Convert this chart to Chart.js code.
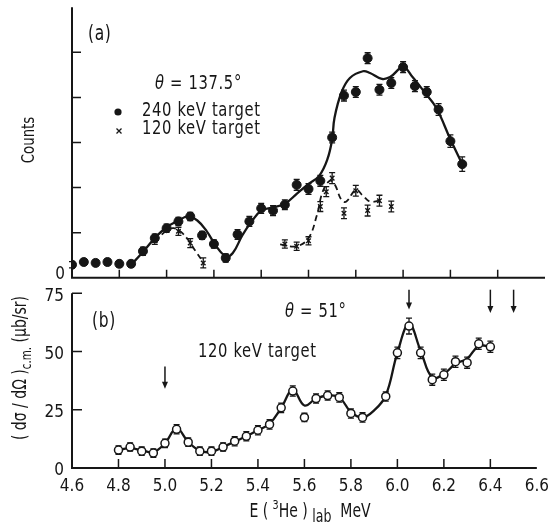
<!DOCTYPE html>
<html>
<head>
<meta charset="utf-8">
<script src="https://cdn.jsdelivr.net/npm/chart.js@4.4.0/dist/chart.umd.min.js"></script>
<style>
html,body{margin:0;padding:0;background:#fff;}
#wrap{position:relative;width:557px;height:522px;overflow:hidden;}
#wrap canvas{position:absolute;left:0;}
</style>
</head>
<body>
<div id="wrap">
<canvas id="panelA" width="557" height="305" style="top:-10px;width:557px;height:305px"></canvas>
<canvas id="panelB" width="557" height="247" style="top:275px;width:557px;height:247px"></canvas>
</div>
<script>
// energy axis, shared by both panels
const xTicks = [4.6,4.8,5.0,5.2,5.4,5.6,5.8,6.0,6.2,6.4,6.6];

// (a) theta = 137.5 deg, counts in tick units
const eA240 = [4.60,4.65,4.70,4.75,4.80,4.85,4.90,4.95,5.00,5.05,5.10,5.15,5.20,5.25,5.30,5.35,5.40,5.45,5.50,5.55,5.60,5.65,5.70,5.75,5.80,5.85,5.90,5.95,6.00,6.05,6.10,6.15,6.20,6.25];
const cA240 = [0.29,0.35,0.33,0.35,0.31,0.31,0.59,0.88,1.10,1.25,1.36,0.94,0.75,0.44,0.96,1.25,1.54,1.49,1.62,2.06,1.97,2.15,3.11,4.04,4.12,4.87,4.17,4.32,4.67,4.25,4.12,3.73,3.03,2.52];
const errA240 = [0.07,0.07,0.07,0.07,0.07,0.07,0.09,0.09,0.09,0.09,0.09,0.09,0.09,0.09,0.11,0.11,0.11,0.11,0.11,0.12,0.12,0.12,0.12,0.12,0.12,0.12,0.12,0.12,0.12,0.12,0.12,0.13,0.14,0.16];
const eA120 = [4.95,5.05,5.10,5.155,5.50,5.55,5.60,5.65,5.675,5.70,5.75,5.80,5.85,5.90,5.95];
const cA120 = [0.82,1.03,0.77,0.33,0.75,0.70,0.82,1.58,1.91,2.21,1.43,1.93,1.49,1.71,1.58];
const errA120 = [0.08,0.09,0.10,0.11,0.09,0.09,0.09,0.11,0.11,0.12,0.12,0.12,0.12,0.12,0.12];

// (a) drawn curves
const fitA240E = [4.85,4.90,4.95,5.00,5.05,5.09,5.13,5.17,5.21,5.25,5.28,5.32,5.36,5.40,5.45,5.50,5.55,5.60,5.645,5.68,5.70,5.71,5.74,5.775,5.83,5.86,5.91,5.945,6.00,6.04,6.09,6.14,6.20,6.25];
const fitA240C = [0.29,0.57,0.88,1.12,1.27,1.36,1.27,1.03,0.70,0.48,0.55,0.94,1.25,1.49,1.56,1.64,1.86,2.08,2.26,2.63,3.07,3.55,4.12,4.43,4.58,4.54,4.41,4.45,4.67,4.45,4.12,3.77,3.07,2.52];
const fitA120E1 = [4.95,5.00,5.03,5.06,5.09,5.12,5.155];
const fitA120C1 = [0.80,1.05,1.10,1.02,0.85,0.61,0.35];
const fitA120E2 = [5.48,5.55,5.60,5.635,5.66,5.69,5.71,5.74,5.76,5.80,5.83,5.86,5.90];
const fitA120C2 = [0.74,0.70,0.88,1.38,1.91,2.15,2.08,1.72,1.69,1.95,1.82,1.69,1.71];

// (b) theta = 51 deg, dsigma/dOmega in microbarn/sr
const eB = [4.80,4.85,4.90,4.95,5.00,5.05,5.10,5.15,5.20,5.25,5.30,5.35,5.40,5.45,5.50,5.55,5.60,5.65,5.70,5.75,5.80,5.85,5.95,6.00,6.05,6.10,6.15,6.20,6.25,6.30,6.35,6.40];
const sB = [7.7,9.0,7.2,6.4,10.6,16.6,11.1,7.2,7.2,9.0,11.5,13.6,16.2,18.7,25.8,33.0,21.7,29.8,31.1,30.3,23.4,21.7,30.7,49.4,60.9,49.4,37.9,40.0,45.6,45.2,53.3,52.0];
const errB = [1.8,1.8,1.8,1.8,1.8,2.0,1.8,1.8,1.8,1.8,2.0,2.0,2.0,2.0,2.0,2.2,1.8,2.0,2.0,2.0,2.0,2.0,2.0,2.5,3.4,2.5,2.4,2.4,2.4,2.4,2.4,2.4];
const fitBE = [4.80,4.85,4.90,4.95,5.00,5.05,5.10,5.15,5.20,5.25,5.30,5.35,5.40,5.45,5.50,5.55,5.60,5.65,5.70,5.75,5.80,5.85,5.90,5.95,6.00,6.05,6.10,6.15,6.20,6.25,6.30,6.35,6.40];
const fitBS = [7.7,8.5,7.6,6.8,10.6,17.0,11.2,7.4,6.9,9.0,11.3,13.6,16.2,19.0,25.8,33.5,26.8,29.8,31.1,30.4,24.0,21.7,24.7,31.1,49.4,61.8,50.3,38.8,40.4,44.7,46.9,52.4,52.0];

// (b) arrows: energy, top and tip of the shaft
const arrowE = [5.00,6.05,6.40,6.50];
const arrowTop = [43.5,76.5,76.5,76.5];
const arrowTip = [34.0,68.0,66.5,66.5];

const FONT = '"DejaVu Sans Condensed","Liberation Sans Narrow",sans-serif';
const INK = '#161616';
const SX = 0.82; // squeeze for the lettering
Chart.defaults.font.family = FONT;
Chart.defaults.color = INK;

const pts = (xs, ys) => xs.map((x, i) => ({x, y: ys[i]}));

// axis lines with inward ticks
const frame = {
  id: 'frame',
  afterDraw(chart, args, o) {
    const {ctx, chartArea: a, scales: {x, y}} = chart;
    ctx.save();
    ctx.strokeStyle = INK;
    ctx.lineWidth = 2;
    ctx.beginPath();
    ctx.moveTo(a.left, a.top); ctx.lineTo(a.left, a.bottom); ctx.lineTo(a.right, a.bottom);
    ctx.stroke();
    ctx.lineWidth = 1.5;
    ctx.beginPath();
    o.xTicks.forEach(v => { const px = x.getPixelForValue(v); ctx.moveTo(px, a.bottom); ctx.lineTo(px, a.bottom - o.len); });
    o.yTicks.forEach(v => { const py = y.getPixelForValue(v); ctx.moveTo(a.left, py); ctx.lineTo(a.left + o.len + 1, py); });
    ctx.stroke();
    ctx.restore();
  }
};

// error bars, read from dataset.errs
const errorBars = {
  id: 'errorBars',
  beforeDatasetsDraw(chart) {
    const {ctx, scales: {y}} = chart;
    ctx.save();
    ctx.strokeStyle = INK;
    ctx.lineWidth = 1.3;
    chart.data.datasets.forEach((ds, i) => {
      if (!ds.errs) return;
      chart.getDatasetMeta(i).data.forEach((el, j) => {
        const v = ds.data[j].y, e = ds.errs[j];
        const t = y.getPixelForValue(v + e), b = y.getPixelForValue(v - e);
        ctx.beginPath();
        ctx.moveTo(el.x, t); ctx.lineTo(el.x, b);
        ctx.moveTo(el.x - 3, t); ctx.lineTo(el.x + 3, t);
        ctx.moveTo(el.x - 3, b); ctx.lineTo(el.x + 3, b);
        ctx.stroke();
      });
    });
    ctx.restore();
  }
};

// squeezed text made of pieces: [text, size, dy, italic]
function rich(ctx, x, y, parts, center) {
  const fontOf = p => (p[3] ? 'italic ' : '') + p[1] + 'px ' + FONT;
  let w = 0;
  parts.forEach(p => { ctx.font = fontOf(p); w += ctx.measureText(p[0]).width; });
  ctx.save();
  ctx.translate(x, y);
  ctx.scale(SX, 1);
  let cx = center ? -w / 2 : 0;
  parts.forEach(p => {
    ctx.font = fontOf(p);
    ctx.fillText(p[0], cx, p[2] || 0);
    cx += ctx.measureText(p[0]).width;
  });
  ctx.restore();
}

// panel (a) canvas sits 10px above the page top
const notesA = {
  id: 'notesA',
  afterDraw(chart) {
    const ctx = chart.ctx;
    ctx.save();
    ctx.translate(0, 10);
    ctx.fillStyle = INK; ctx.strokeStyle = INK;
    ctx.textBaseline = 'middle';
    ctx.letterSpacing = '0.8px';
    rich(ctx, 88, 35, [['(a)', 21]]);
    rich(ctx, 155, 84, [['θ', 20, 0, true], [' = 137.5°', 20]]);
    ctx.beginPath(); ctx.arc(118, 112, 3.6, 0, Math.PI * 2); ctx.fill();
    rich(ctx, 142, 111, [['240 keV target', 20]]);
    ctx.lineWidth = 1.3;
    ctx.beginPath();
    ctx.moveTo(116.5, 128.5); ctx.lineTo(121.5, 133.5);
    ctx.moveTo(121.5, 128.5); ctx.lineTo(116.5, 133.5);
    ctx.stroke();
    rich(ctx, 142, 129, [['120 keV target', 20]]);
    ctx.letterSpacing = '0px';
    ctx.translate(29, 140); ctx.rotate(-Math.PI / 2);
    rich(ctx, 0, 0, [['Counts', 18]], true);
    ctx.restore();
  }
};

const notesB = {
  id: 'notesB',
  afterDraw(chart) {
    const {ctx, scales: {x, y}} = chart;
    ctx.save();
    ctx.fillStyle = INK; ctx.strokeStyle = INK;
    // arrows
    ctx.lineWidth = 1.5;
    arrowE.forEach((e, i) => {
      const px = x.getPixelForValue(e), t = y.getPixelForValue(arrowTop[i]), b = y.getPixelForValue(arrowTip[i]);
      ctx.beginPath(); ctx.moveTo(px, t); ctx.lineTo(px, b - 5); ctx.stroke();
      ctx.beginPath(); ctx.moveTo(px - 3, b - 7); ctx.lineTo(px + 3, b - 7); ctx.lineTo(px, b); ctx.closePath(); ctx.fill();
    });
    ctx.textBaseline = 'middle';
    ctx.letterSpacing = '0.8px';
    rich(ctx, 92, 47, [['(b)', 21]]);
    rich(ctx, 285, 37, [['θ', 20, 0, true], [' = 51°', 20]]);
    rich(ctx, 198, 77, [['120 keV target', 20]]);
    ctx.letterSpacing = '0px';
    ctx.textBaseline = 'alphabetic';
    rich(ctx, 310, 242, [['E ( ', 19], ['3', 13, -8], ['He ) ', 19], ['lab', 17, 5], ['  MeV', 19]], true);
    ctx.translate(26, 93); ctx.rotate(-Math.PI / 2);
    rich(ctx, 0, 0, [['( dσ / dΩ )', 19], ['c.m.', 14, 5], [' (μb/sr)', 19]], true);
    ctx.restore();
  }
};

const hideGrid = {display: false, drawTicks: false};

new Chart(document.getElementById('panelA'), {
  type: 'scatter',
  data: {datasets: [
    {data: pts(eA240, cA240), errs: errA240, pointStyle: 'circle', pointRadius: 4.5, backgroundColor: INK, borderColor: INK, borderWidth: 1},
    {data: pts(eA120, cA120), errs: errA120, pointStyle: 'crossRot', pointRadius: 3.2, borderColor: INK, borderWidth: 1.4},
    {data: pts(fitA240E, fitA240C), showLine: true, pointRadius: 0, borderColor: INK, borderWidth: 2.3, tension: 0.4},
    {data: pts(fitA120E1, fitA120C1), showLine: true, pointRadius: 0, borderColor: INK, borderWidth: 1.8, borderDash: [6, 4], tension: 0.4},
    {data: pts(fitA120E2, fitA120C2), showLine: true, pointRadius: 0, borderColor: INK, borderWidth: 1.8, borderDash: [6, 4], tension: 0.4}
  ]},
  options: {
    responsive: false, animation: false, events: [],
    layout: {padding: {left: 0, right: 12, top: 16, bottom: 0}},
    plugins: {legend: {display: false}, tooltip: {enabled: false},
      frame: {xTicks: xTicks.slice(1, -1), yTicks: [1, 2, 3, 4, 5], len: 8}},
    scales: {
      x: {type: 'linear', min: 4.6, max: 6.6,
        afterBuildTicks: s => { s.ticks = xTicks.map(v => ({value: v})); },
        ticks: {display: false}, grid: hideGrid, border: {display: false},
        afterFit: s => { s.height = 15; }},
      y: {min: 0, max: 6,
        afterBuildTicks: s => { s.ticks = [{value: 0}]; },
        ticks: {callback: v => String(v), padding: 7, labelOffset: -3, font: {size: 17}, color: INK},
        grid: hideGrid, border: {display: false},
        afterFit: s => { s.width = 72; }}
    }
  },
  plugins: [frame, errorBars, notesA]
});

new Chart(document.getElementById('panelB'), {
  type: 'scatter',
  data: {datasets: [
    {data: pts(eB, sB), errs: errB, pointStyle: 'circle', pointRadius: 4, backgroundColor: '#fff', borderColor: INK, borderWidth: 1.5},
    {data: pts(fitBE, fitBS), showLine: true, pointRadius: 0, borderColor: INK, borderWidth: 2.3, tension: 0.4}
  ]},
  options: {
    responsive: false, animation: false, events: [],
    layout: {padding: {left: 0, right: 12, top: 16, bottom: 0}},
    plugins: {legend: {display: false}, tooltip: {enabled: false},
      frame: {xTicks: xTicks.slice(1, -1), yTicks: [25, 50, 75], len: 9}},
    scales: {
      x: {type: 'linear', min: 4.6, max: 6.6,
        afterBuildTicks: s => { s.ticks = xTicks.map(v => ({value: v})); },
        ticks: {callback: v => v.toFixed(1), padding: 8, font: {size: 17}, color: INK, maxRotation: 0, autoSkip: false},
        grid: hideGrid, border: {display: false},
        afterFit: s => { s.height = 54; }},
      y: {min: 0, max: 75,
        afterBuildTicks: s => { s.ticks = [0, 25, 50, 75].map(v => ({value: v})); },
        ticks: {callback: v => String(v), padding: 8, labelOffset: 3, font: {size: 17}, color: INK},
        grid: hideGrid, border: {display: false},
        afterFit: s => { s.width = 72; }}
    }
  },
  plugins: [frame, errorBars, notesB]
});
</script>
</body>
</html>
